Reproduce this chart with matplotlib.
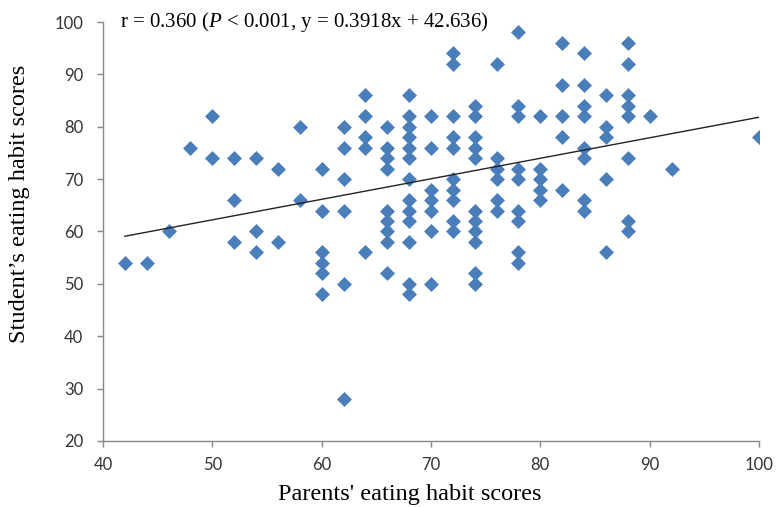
import matplotlib
matplotlib.use("Agg")
import matplotlib.pyplot as plt
import numpy as np

# parents' score -> list of students' scores
parent_cols = [42, 44, 46, 48, 50, 52, 54, 56, 58, 60, 62, 64, 66, 68,
               70, 72, 74, 76, 78, 80, 82, 84, 86, 88, 90, 92, 100]
student_cols = [
    [54],
    [54],
    [60],
    [76],
    [82, 74],
    [74, 66, 58],
    [74, 60, 56],
    [72, 58],
    [80, 66],
    [72, 64, 56, 54, 52, 48],
    [80, 76, 70, 64, 50, 28],
    [86, 82, 78, 76, 56],
    [80, 76, 74, 72, 64, 62, 60, 58, 52],
    [86, 82, 80, 78, 76, 74, 70, 66, 64, 62, 58, 50, 48],
    [82, 76, 68, 66, 64, 60, 50],
    [94, 92, 82, 78, 76, 70, 68, 66, 62, 60],
    [84, 82, 78, 76, 74, 64, 62, 60, 58, 52, 50],
    [92, 74, 72, 70, 66, 64],
    [98, 84, 82, 72, 70, 64, 62, 56, 54],
    [82, 72, 70, 68, 66],
    [96, 88, 82, 78, 68],
    [94, 88, 84, 82, 76, 74, 66, 64],
    [86, 80, 78, 70, 56],
    [96, 92, 86, 84, 82, 74, 62, 60],
    [82],
    [72],
    [78],
]

slope = 0.3918
intercept = 42.636

x = []
y = []
for p, ss in zip(parent_cols, student_cols):
    for s in ss:
        x.append(p)
        y.append(s)
x = np.array(x)
y = np.array(y)

plt.rcParams["mathtext.fontset"] = "custom"
plt.rcParams["mathtext.rm"] = "Liberation Serif"
plt.rcParams["mathtext.it"] = "Liberation Serif:italic"

fig = plt.figure(figsize=(7.76, 5.07), dpi=100)
ax = fig.add_axes([0.1327, 0.1302, 0.8454, 0.8264])

ax.scatter(x, y, marker="D", s=58, color="#4a7ebb", linewidths=0, zorder=3)

xl = np.array([x.min(), x.max()])
ax.plot(xl, slope * xl + intercept, color="#222222", lw=1.0, zorder=4)

ax.set_xlim(40, 100)
ax.set_ylim(20, 100)
ax.set_xticks(range(40, 101, 10))
ax.set_yticks(range(20, 101, 10))

for side in ["top", "right"]:
    ax.spines[side].set_visible(False)
for side in ["left", "bottom"]:
    ax.spines[side].set_color("#888888")
    ax.spines[side].set_linewidth(1.0)
ax.tick_params(direction="out", length=4.3, width=1, color="#888888",
               labelcolor="#333333", labelsize=12)
ax.tick_params(axis="y", pad=10)
ax.tick_params(axis="x", pad=7)
for lab in ax.get_xticklabels() + ax.get_yticklabels():
    lab.set_family("Lato")

ax.set_xlabel("Parents' eating habit scores", family="Liberation Serif",
              fontsize=17.5)
ax.set_ylabel("Student\u2019s eating habit scores", family="Liberation Serif",
              fontsize=17.5)
ax.xaxis.set_label_coords(0.468, -0.102)
ax.yaxis.set_label_coords(-0.111, 0.566)

ax.text(0.026, 0.989,
        r"r = 0.360 ($\mathit{P}$ < 0.001, y = 0.3918x + 42.636)",
        transform=ax.transAxes, family="Liberation Serif", fontsize=15,
        va="baseline", ha="left")

fig.savefig("out.png", dpi=100)
